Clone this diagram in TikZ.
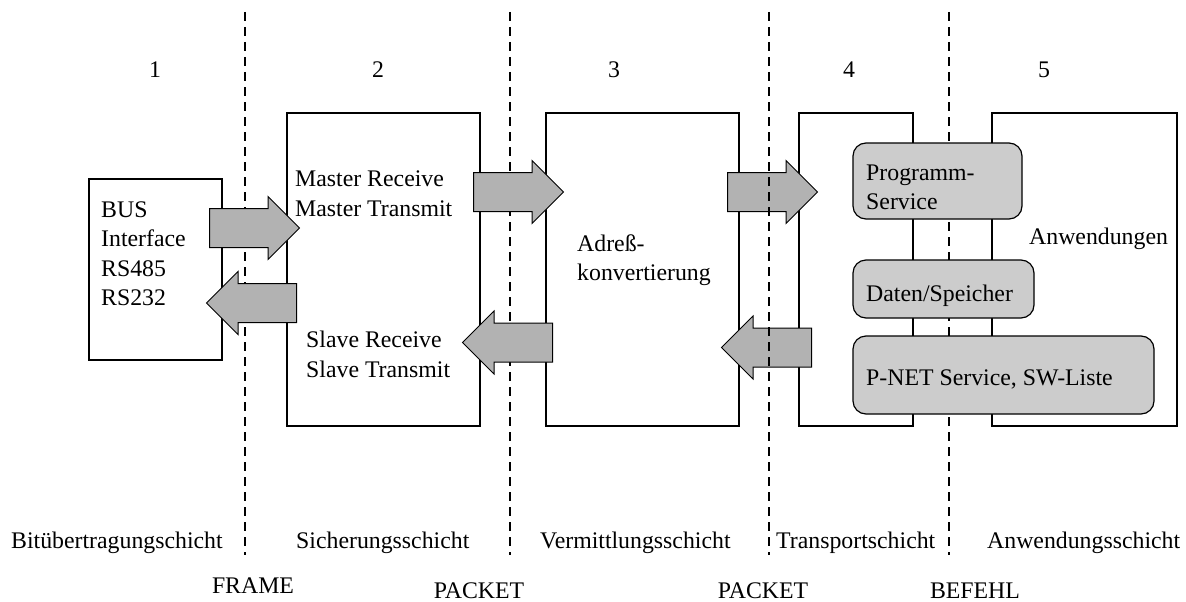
\documentclass[tikz,border=0pt]{standalone}
\usepackage{fontspec}
\setmainfont{Liberation Serif}
\usetikzlibrary{shapes.arrows}
\definecolor{arrowgray}{gray}{0.70}
\definecolor{panelgray}{gray}{0.80}
\begin{document}
\begin{tikzpicture}[x=1pt,y=-1pt,
  every node/.style={font=\fontsize{23.8}{29.5}\selectfont},
  layerbox/.style 2 args={draw, line width=1.2pt, inner sep=0pt,
    minimum width=#1, minimum height=#2},
  servicebox/.style 2 args={draw, line width=1.2pt, fill=panelgray,
    rounded corners=13pt, inner sep=0pt, minimum width=#1, minimum height=#2},
  blockarrow/.style={single arrow, draw, line width=1pt, fill=arrowgray,
    inner xsep=0pt, inner ysep=19pt, minimum height=90pt,
    single arrow head extend=12pt, single arrow tip angle=90, anchor=tail},
  leftarrow/.style={blockarrow, shape border rotate=180},
  sepline/.style={line width=1.2pt, dash pattern=on 9pt off 6pt},
  label/.style={inner sep=0pt, align=left, anchor=west}]
\useasboundingbox (0,0) rectangle (1186,602);

% layer boxes
\node[layerbox={133}{181}] (b1) at (155.5,269.5) {};
\node[layerbox={193}{313}] (b2) at (383.5,269.5) {};
\node[layerbox={193}{313}] (b3) at (642.5,269.5) {};
\node[layerbox={114}{313}] (b4) at (856,269.5) {};
\node[layerbox={185}{313}] (b5) at (1084.5,269.5) {};

% layer boundaries
\coordinate (s1t) at (245,12);  \coordinate (s1b) at (245,555);
\coordinate (s2t) at (510,12);  \coordinate (s2b) at (510,555);
\coordinate (s3t) at (769,12);  \coordinate (s3b) at (769,555);
\coordinate (s4t) at (949,12);  \coordinate (s4b) at (949,555);
\draw[sepline] (s1t) -- (s1b);
\draw[sepline] (s2t) -- (s2b);
\draw[sepline] (s4t) -- (s4b);

% data flow between layers (placed by their tails)
\node[blockarrow] (a12) at (209,228) {};
\node[leftarrow]  (a21) at (297,303) {};
\node[blockarrow] (a23) at (473,192) {};
\node[leftarrow]  (a32) at (553,342.5) {};
\node[blockarrow] (a34) at (727,192) {};
\node[leftarrow]  (a43) at (812,347.5) {};

\draw[sepline] (s3t) -- (s3b);

% services of the transport and application layers
\node[servicebox={169}{76}]  (prog) at (937.5,181) {};
\node[servicebox={181}{58}]  (data) at (943.5,289) {};
\node[servicebox={301}{78}]  (pnet) at (1003.5,375) {};

% box texts
\node[label] (t1) at (101,253.5) {BUS\\Interface\\RS485\\RS232};
\node[label] (t2m) at (295,193.5) {Master Receive\\Master Transmit};
\node[label] (t2s) at (306,354.5) {Slave Receive\\Slave Transmit};
\node[label] (t3) at (577,260) {Adreß-\\konvertierung};
\node[label] (tprog) at (866,187.5) {Programm-\\Service};
\node[label] (tdata) at (866,295.7) {Daten/Speicher};
\node[label] (tpnet) at (866,379) {P-NET Service, SW-Liste};
\node[label] (t5) at (1029,239) {Anwendungen};

% layer numbers
\node[inner sep=0pt] (n1) at (155,70) {1};
\node[inner sep=0pt] (n2) at (378,70) {2};
\node[inner sep=0pt] (n3) at (614,70) {3};
\node[inner sep=0pt] (n4) at (849,70) {4};
\node[inner sep=0pt] (n5) at (1044,70) {5};

% layer names
\node[label] (l1) at (11,542.7) {Bitübertragungschicht};
\node[label] (l2) at (296,542.7) {Sicherungsschicht};
\node[label] (l3) at (540,542.7) {Vermittlungsschicht};
\node[label] (l4) at (776,542.7) {Transportschicht};
\node[label] (l5) at (987,542.7) {Anwendungsschicht};

% data units exchanged across boundaries
\node[inner sep=0pt] (u1) at (253,586) {FRAME};
\node[inner sep=0pt] (u2) at (479,591) {PACKET};
\node[inner sep=0pt] (u3) at (763,591) {PACKET};
\node[inner sep=0pt] (u4) at (975,591) {BEFEHL};
\end{tikzpicture}
\end{document}
